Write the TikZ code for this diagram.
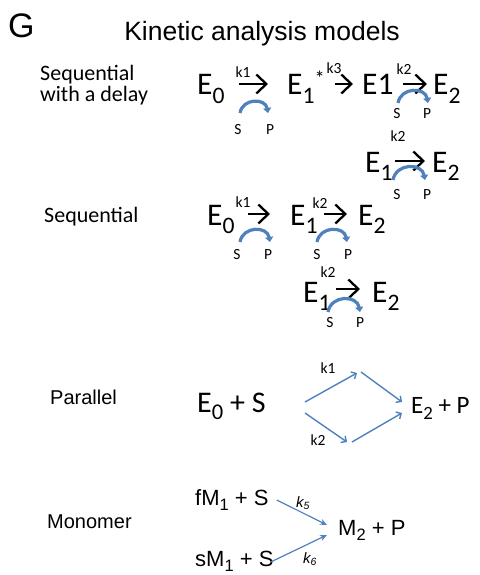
\documentclass[tikz,border=0pt]{standalone}
\usepackage{graphicx}
\usepackage{fontspec}
\setmainfont{Carlito}
\newfontfamily\arialf{Liberation Sans}
\usetikzlibrary{arrows.meta}
\definecolor{mblue}{RGB}{79,129,189}
\newcommand{\sbs}[1]{\raisebox{-0.26em}{\scalebox{0.75}{#1}}}
\newcommand{\spx}[1]{\raisebox{0.3em}{\scalebox{0.65}{#1}}}
\begin{document}
\begin{tikzpicture}[x=1pt,y=-1pt,
  txt/.style={inner sep=0pt, anchor=base west},
  eq/.style={txt, font=\fontsize{31.5}{31.5}\selectfont},
  lab/.style={txt, font=\fontsize{22}{22}\selectfont},
  alab/.style={txt, font=\arialf\fontsize{20}{20}\selectfont},
  mtxt/.style={txt, font=\arialf\fontsize{22}{22}\selectfont},
  small/.style={inner sep=0pt, font=\fontsize{15.5}{15.5}\selectfont},
  kital/.style={inner sep=0pt, font=\arialf\itshape\fontsize{15}{15}\selectfont},
  karrow/.style={line width=2.3pt, -{Straight Barb[length=10pt,width=19pt]}},
  sparc/.style={mblue, line width=3.2pt, -{Triangle[length=5pt,width=8pt]}},
  parr/.style={mblue, line width=1.4pt, -{Straight Barb[length=4pt,width=8pt]}},
  marr/.style={mblue, line width=1.2pt, -{Stealth[length=7pt,width=6pt]}},
]
\useasboundingbox (0,0) rectangle (479,575);
% title
\node[txt, font=\arialf\fontsize{34}{34}\selectfont] (G) at (8,38) {G};
\node[inner sep=0pt, anchor=base, font=\arialf\fontsize{26.5}{26.5}\selectfont] (title) at (262,41) {Kinetic analysis models};
% left labels
\node[lab] (ls1a) at (40,81) {Sequential};
\node[lab] (ls1b) at (40,102) {with a delay};
\node[lab] (ls2) at (44,222) {Sequential};
\node[alab] (lpar) at (50,404) {Parallel};
\node[alab] (lmon) at (47,528) {Monomer};
% row 1
\node[eq] (r1e0) at (197,95) {E\sbs{0}};
\node[eq] (r1e1) at (287,95) {E\sbs{1}\spx{*}};
\node[eq] (r1e1b) at (362,95) {E1};
\node[eq] (r1e2) at (433,95) {E\sbs{2}};
\draw[karrow] ([shift={(14,-11)}]r1e0.base east) -- ([shift={(-19,-11)}]r1e1.base west);
\draw[karrow] ([shift={(10,-11)}]r1e1.base east) -- ([shift={(-9,-11)}]r1e1b.base west);
\draw[karrow] ([shift={(9,-11)}]r1e1b.base east) -- ([shift={(-6,-11)}]r1e2.base west);
\node[small] (r1k1) at (243,72) {k1};
\node[small] (r1k3) at (334,68) {k3};
\node[small] (r1k2) at (404,69) {k2};
\node[small] (r1s1) at (238,130) {S};
\node[small] (r1p1) at (270,130) {P};
\node[small] (r1s2) at (397,114) {S};
\node[small] (r1p2) at (427,114) {P};
\draw[sparc] ([shift={(2,-17)}]r1s1.center) to[out=80,in=100,looseness=1.4] ([shift={(-2,-17)}]r1p1.center);
\draw[sparc] ([shift={(1,-11)}]r1s2.center) to[out=80,in=100,looseness=1.4] ([shift={(1,-11)}]r1p2.center);
% row 2
\node[eq] (r2e1) at (365,172) {E\sbs{1}};
\node[eq] (r2e2) at (432,172) {E\sbs{2}};
\draw[karrow] ([shift={(2,-11)}]r2e1.base east) -- ([shift={(-7,-11)}]r2e2.base west);
\node[small] (r2k2) at (398,136) {k2};
\node[small] (r2s) at (397,195) {S};
\node[small] (r2p) at (427,195) {P};
\draw[sparc] ([shift={(-4,-15)}]r2s.center) to[out=80,in=100,looseness=1.4] ([shift={(-2,-15)}]r2p.center);
% row 3
\node[eq] (r3e0) at (207,225) {E\sbs{0}};
\node[eq] (r3e1) at (290,225) {E\sbs{1}};
\node[eq] (r3e2) at (358,225) {E\sbs{2}};
\draw[karrow] ([shift={(13,-11)}]r3e0.base east) -- ([shift={(-20,-11)}]r3e1.base west);
\draw[karrow] ([shift={(6,-11)}]r3e1.base east) -- ([shift={(-11,-11)}]r3e2.base west);
\node[small] (r3k1) at (243,202) {k1};
\node[small] (r3k2) at (320,203) {k2};
\node[small] (r3s1) at (237,255) {S};
\node[small] (r3p1) at (268,255) {P};
\node[small] (r3s2) at (317,255) {S};
\node[small] (r3p2) at (348,255) {P};
\draw[sparc] ([shift={(3,-13)}]r3s1.center) to[out=80,in=100,looseness=1.4] ([shift={(2,-13)}]r3p1.center);
\draw[sparc] ([shift={(0,-13)}]r3s2.center) to[out=80,in=100,looseness=1.4] ([shift={(-1,-13)}]r3p2.center);
% row 4
\node[eq] (r4e1) at (303,302) {E\sbs{1}};
\node[eq] (r4e2) at (372,302) {E\sbs{2}};
\draw[karrow] ([shift={(5,-13)}]r4e1.base east) -- ([shift={(-12,-13)}]r4e2.base west);
\node[small] (r4k2) at (328,272) {k2};
\node[small] (r4s) at (330,323) {S};
\node[small] (r4p) at (360,323) {P};
\draw[sparc] ([shift={(-2,-11)}]r4s.center) to[out=80,in=100,looseness=1.4] ([shift={(0,-11)}]r4p.center);
% parallel
\node[txt, font=\fontsize{30}{30}\selectfont] (pe0) at (197,412) {E\sbs{0} + S};
\node[txt, font=\fontsize{25}{25}\selectfont] (pe2) at (411,413) {E\sbs{2} + P};
\coordinate (pa) at (305,402);
\coordinate (pu1) at (357,373);
\coordinate (pu2) at (361,372);
\coordinate (pc) at (305,413);
\coordinate (pd1) at (347,442);
\coordinate (pd2) at (352,442);
\draw[parr] (pa) -- (pu1);
\draw[parr] (pu2) -- ([shift={(-9,-11)}]pe2.base west);
\draw[parr] (pc) -- (pd1);
\draw[parr] (pd2) -- ([shift={(-9,0)}]pe2.base west);
\node[small] (pk1) at (328,368) {k1};
\node[small] (pk2) at (318,440) {k2};
% monomer
\node[mtxt] (mf) at (195,505) {fM\sbs{1} + S};
\node[mtxt] (mm) at (338,535) {M\sbs{2} + P};
\node[mtxt] (ms) at (195,566) {sM\sbs{1} + S};
\draw[marr] ([shift={(8,-5)}]mf.base east) -- ([shift={(-11,-10)}]mm.base west);
\draw[marr] ([shift={(-3,-4)}]ms.base east) -- ([shift={(-11,0)}]mm.base west);
\node[kital] (k5) at (303,503) {k\textsubscript{5}};
\node[kital] (k6) at (310,559) {k\textsubscript{6}};
\end{tikzpicture}
\end{document}
